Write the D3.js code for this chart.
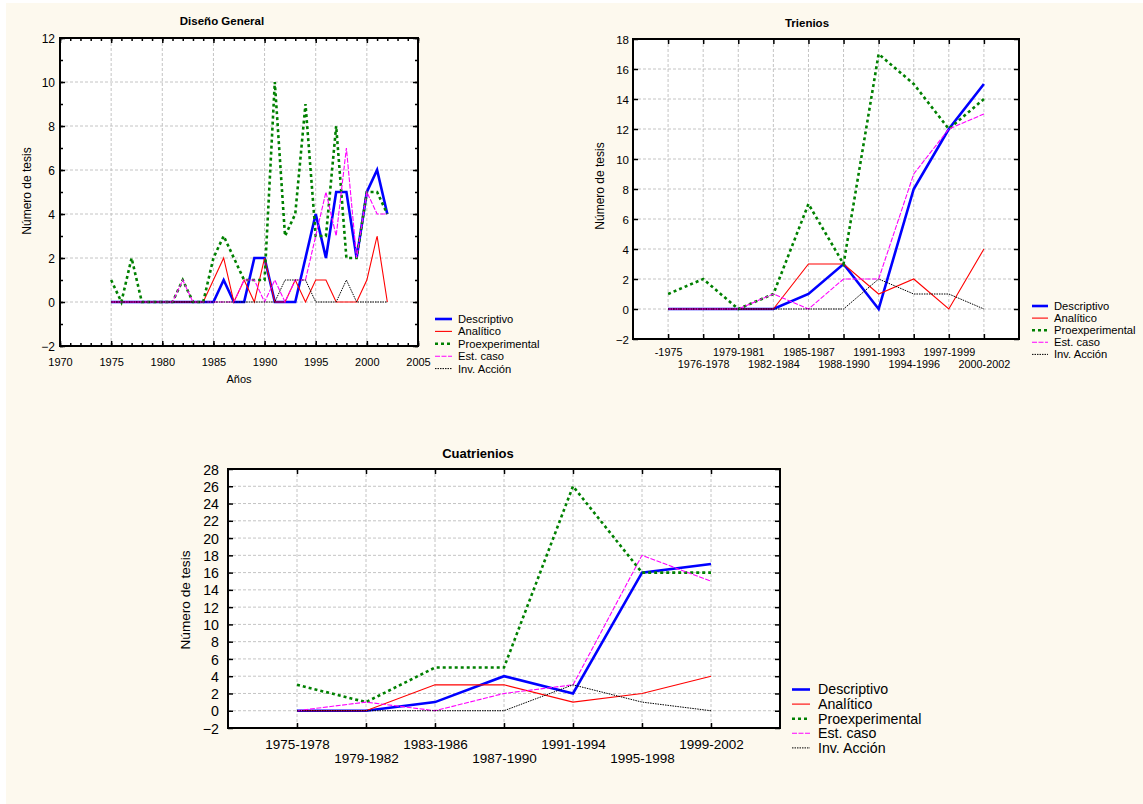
<!DOCTYPE html>
<html><head><meta charset="utf-8">
<script src="https://cdn.jsdelivr.net/npm/d3@7"></script>
<style>
html,body{margin:0;padding:0;background:#fff;}
svg{display:block;}
</style></head><body>
<svg id="c" width="1143" height="804"></svg>
<script>
// ---------- DATA ----------
const seriesNames = ["Descriptivo","Analítico","Proexperimental","Est. caso","Inv. Acción"];

const years = [1975,1976,1977,1978,1979,1980,1981,1982,1983,1984,1985,1986,1987,1988,
               1989,1990,1991,1992,1993,1994,1995,1996,1997,1998,1999,2000,2001,2002];
const generalDescriptivo     = [0,0,0,0,0,0,0,0,0,0,0,1,0,0,2,2,0,0,0,2,4,2,5,5,2,5,6,4];
const generalAnalitico       = [0,0,0,0,0,0,0,0,0,0,1,2,0,1,0,2,0,0,1,0,1,1,0,0,0,1,3,0];
const generalProexperimental = [1,0,2,0,0,0,0,1,0,0,2,3,2,1,1,1,10,3,4,9,3,3,8,2,2,5,5,4];
const generalEstCaso         = [0,0,0,0,0,0,0,1,0,0,0,0,0,1,1,0,1,0,1,1,3,5,3,7,2,5,4,4];
const generalInvAccion       = [0,0,0,0,0,0,0,0,0,0,0,0,0,0,0,0,0,1,1,1,0,0,0,1,0,0,0,0];
const generalXTicks = [1970,1975,1980,1985,1990,1995,2000,2005];
const generalYTicks = [-2,0,2,4,6,8,10,12];

const trienioLabels = ["-1975","1976-1978","1979-1981","1982-1984","1985-1987",
                       "1988-1990","1991-1993","1994-1996","1997-1999","2000-2002"];
const trienioDescriptivo     = [0,0,0,0,1,3,0,8,12,15];
const trienioAnalitico       = [0,0,0,0,3,3,1,2,0,4];
const trienioProexperimental = [1,2,0,1,7,3,17,15,12,14];
const trienioEstCaso         = [0,0,0,1,0,2,2,9,12,13];
const trienioInvAccion       = [0,0,0,0,0,0,2,1,1,0];
const trienioYTicks = [-2,0,2,4,6,8,10,12,14,16,18];

const cuatrienioLabels = ["1975-1978","1979-1982","1983-1986","1987-1990",
                          "1991-1994","1995-1998","1999-2002"];
const cuatrienioDescriptivo     = [0,0,1,4,2,16,17];
const cuatrienioAnalitico       = [0,0,3,3,1,2,4];
const cuatrienioProexperimental = [3,1,5,5,26,16,16];
const cuatrienioEstCaso         = [0,1,0,2,3,18,15];
const cuatrienioInvAccion       = [0,0,0,0,3,1,0];
const cuatrienioYTicks = [-2,0,2,4,6,8,10,12,14,16,18,20,22,24,26,28];

// ---------- STYLE ----------
const FONT = '"Liberation Sans", Arial, sans-serif';
const styles = [
  {color:"#0000ff", width:2.6, dash:null},
  {color:"#ff0000", width:1.1, dash:null},
  {color:"#008000", width:2.6, dash:"3,3"},
  {color:"#ff00ff", width:1.1, dash:"5,1.5"},
  {color:"#000000", width:1,   dash:"1.5,1"}
];

const svg = d3.select("#c").attr("font-family", FONT);
svg.append("rect").attr("width",1143).attr("height",804).attr("fill","#ffffff");
svg.append("rect").attr("x",6).attr("y",3).attr("width",1137).attr("height",801).attr("fill","#fdf9ee");

function styleAxis(sel, fs){
  sel.attr("font-family", FONT).attr("font-size", fs);
  sel.select(".domain").remove();
  sel.selectAll(".tick line").attr("stroke","#000").attr("stroke-width",1.5);
  sel.selectAll(".tick text").attr("fill","#000");
}

function chart(o){
  const g = svg.append("g");
  const {x, y} = o;
  const [x0, x1] = x.range();
  const [yb, yt] = y.range();
  g.append("rect").attr("x",x0).attr("y",yt).attr("width",x1-x0).attr("height",yb-yt).attr("fill","#fff");
  // grid
  g.selectAll(null).data(o.gridX).join("line")
    .attr("x1",d=>x(d)).attr("x2",d=>x(d)).attr("y1",yt).attr("y2",yb)
    .attr("stroke","#c4c4c4").attr("stroke-width",1).attr("stroke-dasharray","3,2");
  g.selectAll(null).data(o.gridY).join("line")
    .attr("x1",x0).attr("x2",x1).attr("y1",d=>y(d)).attr("y2",d=>y(d))
    .attr("stroke","#c4c4c4").attr("stroke-width",1).attr("stroke-dasharray","3,2");
  // series
  o.series.forEach((vals,i)=>{
    const st = styles[i];
    const line = d3.line().x((d,j)=>x(o.xs[j])).y(d=>y(d));
    g.append("path").datum(vals).attr("d",line).attr("fill","none")
      .attr("stroke",st.color).attr("stroke-width",st.width)
      .attr("stroke-dasharray",st.dash);
  });
  // frame
  g.append("rect").attr("x",x0).attr("y",yt).attr("width",x1-x0).attr("height",yb-yt)
    .attr("fill","none").attr("stroke","#000").attr("stroke-width",2);
  // axes - major
  const ax = g.append("g").attr("transform",`translate(0,${yb})`)
    .call(d3.axisBottom(x).tickValues(o.xTicks).tickSize(-5).tickPadding(0).tickFormat(o.xFormat));
  styleAxis(ax, o.xFs);
  ax.selectAll(".tick text").attr("y",(d,i)=>o.xLabY(i)).attr("dy","0.35em");
  const axt = g.append("g").attr("transform",`translate(0,${yt})`)
    .call(d3.axisTop(x).tickValues(o.xTicks).tickSize(-5).tickFormat(()=>""));
  styleAxis(axt, o.xFs);
  const ay = g.append("g").attr("transform",`translate(${x0},0)`)
    .call(d3.axisLeft(y).tickValues(o.yTicks).tickSize(-5).tickPadding(o.yPad).tickFormat(d3.format("d")));
  styleAxis(ay, o.yFs);
  ay.selectAll(".tick text").attr("dy","0.36em");
  const ayr = g.append("g").attr("transform",`translate(${x1},0)`)
    .call(d3.axisRight(y).tickValues(o.yTicks).tickSize(-5).tickFormat(()=>""));
  styleAxis(ayr, o.yFs);
  // minor ticks
  if (o.xMinor){
    [[d3.axisBottom, yb],[d3.axisTop, yt]].forEach(([A,pos])=>{
      const m = g.append("g").attr("transform",`translate(0,${pos})`)
        .call(A(x).tickValues(o.xMinor).tickSize(-3).tickFormat(()=>""));
      styleAxis(m, 10);
    });
  }
  if (o.yMinor){
    [[d3.axisLeft, x0],[d3.axisRight, x1]].forEach(([A,pos])=>{
      const m = g.append("g").attr("transform",`translate(${pos},0)`)
        .call(A(y).tickValues(o.yMinor).tickSize(-3).tickFormat(()=>""));
      styleAxis(m, 10);
    });
  }
  // title
  g.append("text").attr("x",o.title.x).attr("y",o.title.y).attr("text-anchor","middle")
    .attr("dy","0.35em").attr("font-weight","bold").attr("font-size",o.title.fs).text(o.title.text);
  // y title
  g.append("text").attr("transform",`translate(${o.yTitle.x},${o.yTitle.y}) rotate(-90)`)
    .attr("text-anchor","middle").attr("dy","0.35em").attr("font-size",o.yTitle.fs).text("Número de tesis");
  if (o.xTitle){
    g.append("text").attr("x",o.xTitle.x).attr("y",o.xTitle.y).attr("text-anchor","middle")
      .attr("dy","0.35em").attr("font-size",o.xTitle.fs).text(o.xTitle.text);
  }
  // legend
  const L = o.legend;
  seriesNames.forEach((name,i)=>{
    const st = styles[i];
    const yy = L.y0 + i*L.dy;
    g.append("line").attr("x1",L.x0).attr("x2",L.x0+L.len).attr("y1",yy).attr("y2",yy)
      .attr("stroke",st.color).attr("stroke-width",st.width).attr("stroke-dasharray",st.dash);
    g.append("text").attr("x",L.tx).attr("y",yy).attr("dy","0.35em").attr("font-size",L.fs).text(name);
  });
}

// Chart 1: Diseño General
const x1s = d3.scaleLinear().domain([1970,2005]).range([60,418]);
const y1s = d3.scaleLinear().domain([-2,12]).range([346,38]);
chart({
  x:x1s, y:y1s, xs:years,
  series:[generalDescriptivo,generalAnalitico,generalProexperimental,generalEstCaso,generalInvAccion],
  gridX:generalXTicks.slice(1,-1), gridY:generalYTicks.slice(1,-1),
  xTicks:generalXTicks, yTicks:generalYTicks,
  xMinor:d3.range(1970,2006), yMinor:d3.range(-2,13),
  xFormat:d3.format("d"), xFs:11, xLabY:()=>16, yFs:12, yPad:5,
  title:{text:"Diseño General", x:222, y:21, fs:11.5},
  yTitle:{x:27, y:191, fs:12},
  xTitle:{text:"Años", x:239, y:379, fs:11},
  legend:{x0:435, len:17, tx:458, y0:319, dy:12.4, fs:11.2}
});

// Chart 2: Trienios
const x2s = d3.scaleLinear().domain([-1,10]).range([633,1019]);
const y2s = d3.scaleLinear().domain([-2,18]).range([339,39]);
chart({
  x:x2s, y:y2s, xs:d3.range(trienioLabels.length),
  series:[trienioDescriptivo,trienioAnalitico,trienioProexperimental,trienioEstCaso,trienioInvAccion],
  gridX:d3.range(trienioLabels.length), gridY:trienioYTicks.slice(1,-1),
  xTicks:d3.range(trienioLabels.length), yTicks:trienioYTicks,
  xFormat:(d)=>trienioLabels[d], xFs:10.8, xLabY:(i)=> i%2===0 ? 13 : 25, yFs:11.5, yPad:4,
  title:{text:"Trienios", x:807, y:23, fs:11.5},
  yTitle:{x:600, y:186, fs:12},
  legend:{x0:1032, len:16, tx:1054, y0:306, dy:12.1, fs:11.2}
});

// Chart 3: Cuatrienios
const x3s = d3.scaleLinear().domain([-1,7]).range([228,780]);
const y3s = d3.scaleLinear().domain([-2,28]).range([728,469]);
chart({
  x:x3s, y:y3s, xs:d3.range(cuatrienioLabels.length),
  series:[cuatrienioDescriptivo,cuatrienioAnalitico,cuatrienioProexperimental,cuatrienioEstCaso,cuatrienioInvAccion],
  gridX:d3.range(cuatrienioLabels.length), gridY:cuatrienioYTicks.slice(1,-1),
  xTicks:d3.range(cuatrienioLabels.length), yTicks:cuatrienioYTicks,
  xFormat:(d)=>cuatrienioLabels[d], xFs:13.5, xLabY:(i)=> i%2===0 ? 16 : 30, yFs:14.2, yPad:9,
  title:{text:"Cuatrienios", x:478, y:453, fs:13},
  yTitle:{x:185, y:600, fs:13.6},
  legend:{x0:792, len:18, tx:818, y0:689.5, dy:14.6, fs:14.2}
});
</script>
</body></html>
